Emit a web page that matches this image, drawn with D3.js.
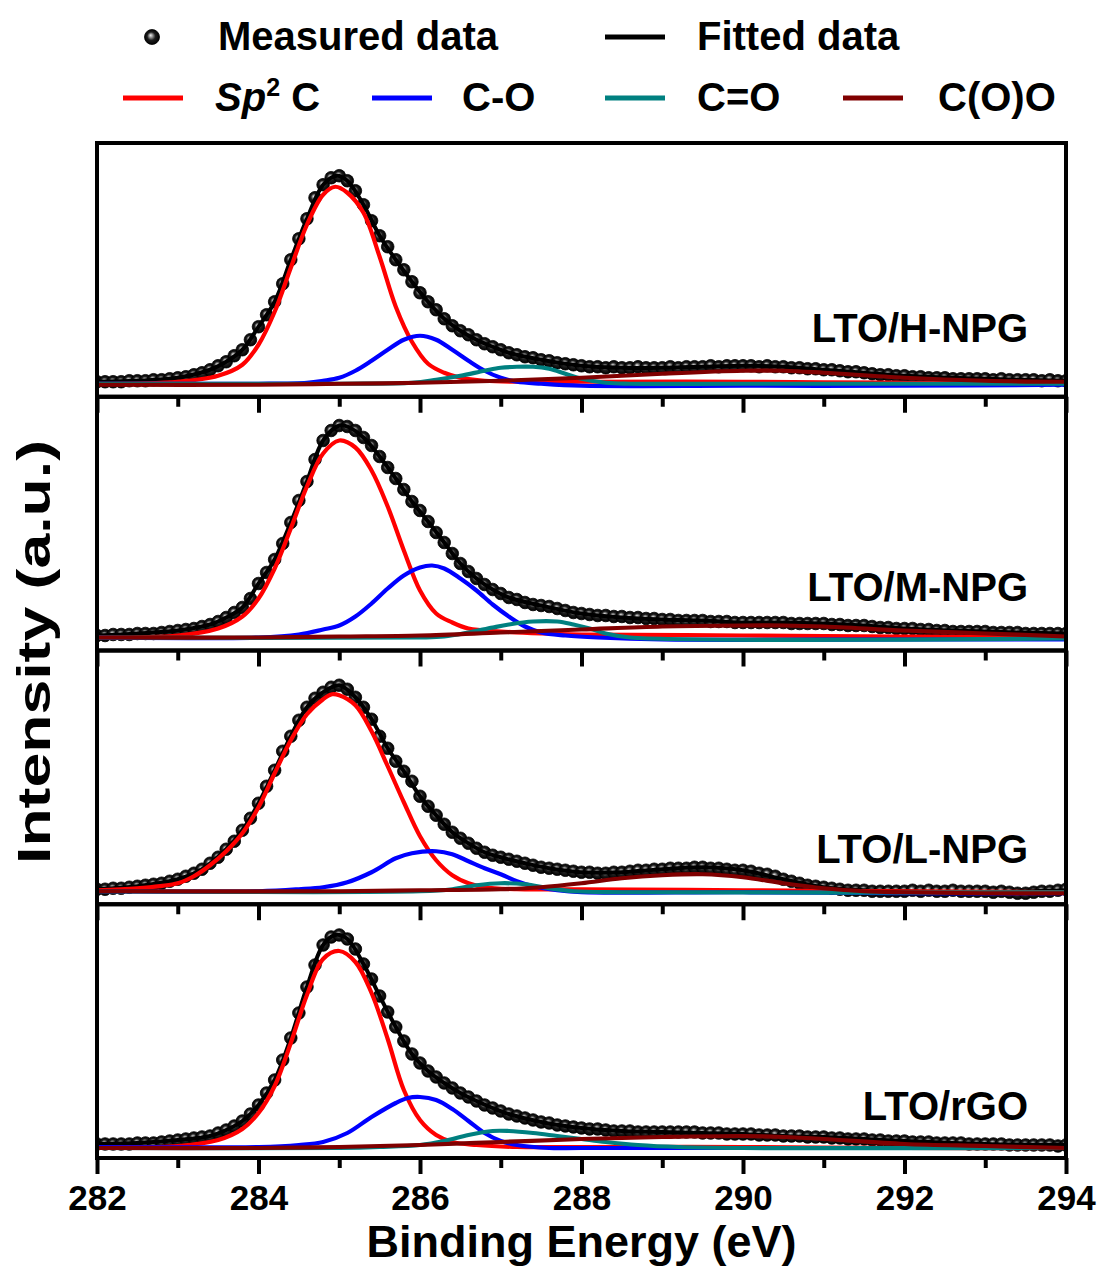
<!DOCTYPE html>
<html>
<head>
<meta charset="utf-8">
<script src="https://cdn.jsdelivr.net/npm/d3@7"></script>
<style>
body { margin: 0; background: #fff; }
svg text { font-family: "Liberation Sans", Arial, sans-serif; font-weight: bold; }
</style>
</head>
<body>
<div id="chart"></div>
<script>
// ---- data (intensity in arbitrary units) ----
var samples = ["LTO/H-NPG", "LTO/M-NPG", "LTO/L-NPG", "LTO/rGO"];
var majorTicks = [282, 284, 286, 288, 290, 292, 294];
var minorTicks = [283, 285, 287, 289, 291, 293];
var seriesNames = ["Sp2 C", "C-O", "C=O", "C(O)O"];

// measured points, one every 0.1 eV from 282 to 294
var measuredE = d3.range(121).map(function(i) { return 282 + i * 0.1; });

var measuredH = [
  15,15,15,15,16,16,16,17,17,18,
  19,20,22,24,27,31,35,41,47,57,
  70,82,95,113,137,158,178,199,212,219,
  221,216,206,192,176,161,150,137,127,115,
  104,95,87,78,71,66,62,57,53,50,
  47,44,42,40,39,37,36,34,33,32,
  31,30,30,29,30,29,29,30,29,29,
  29,30,29,30,30,30,31,30,31,31,
  31,31,30,31,30,30,29,29,28,28,
  27,27,26,25,25,24,23,22,22,21,
  21,20,20,19,19,19,18,18,18,18,
  18,17,18,17,17,17,17,16,17,16,16];
var measuredM = [
  15,15,16,16,16,17,17,17,18,19,
  20,21,22,24,26,29,33,38,43,52,
  67,78,91,107,128,150,169,191,210,220,
  225,224,220,213,205,194,183,172,161,149,
  140,129,118,108,97,87,79,72,66,61,
  57,53,51,48,46,45,44,42,40,38,
  37,36,35,35,34,34,33,33,32,32,
  31,31,30,30,30,30,29,29,29,28,
  28,28,28,28,28,28,27,27,27,27,
  27,26,26,25,25,25,24,23,23,22,
  22,22,21,21,20,20,19,19,19,19,
  19,18,18,18,18,17,17,17,17,17,17];
var measuredL = [
  15,15,16,16,17,18,19,20,21,23,
  25,28,31,35,41,47,55,63,74,86,
  101,118,134,153,168,184,197,206,212,217,
  219,215,207,197,185,168,156,143,133,123,
  108,98,89,80,72,66,61,56,52,49,
  47,45,43,41,39,37,36,35,34,33,
  32,32,31,31,32,32,33,34,34,35,
  35,36,36,36,37,37,36,36,35,34,
  34,33,31,30,28,25,23,21,19,18,
  17,16,15,14,14,14,13,13,13,13,
  13,14,13,14,13,13,14,13,13,13,
  13,12,13,12,11,11,12,13,13,14,15];
var measuredR = [
  14,14,14,14,14,15,15,15,16,17,
  18,19,20,21,22,25,28,32,37,44,
  53,65,78,98,120,145,171,193,213,221,
  223,219,209,194,179,162,146,131,117,104,
  95,87,81,75,70,65,61,57,53,50,
  47,44,42,40,38,36,35,33,32,31,
  30,29,29,28,27,27,27,26,26,26,
  26,26,26,26,26,25,25,25,24,24,
  24,24,23,23,23,22,22,22,21,21,
  21,20,20,19,19,19,18,18,17,17,
  17,16,16,16,15,15,15,15,14,14,
  14,14,14,13,13,13,13,13,13,12,13];

// fitted envelope [eV, intensity]
var fittedH = [[282,15],[282.5,16],[283,19],[283.4,27],[283.6,35],[283.8,47],[284,70],[284.2,95],[284.4,137],[284.6,178],[284.8,212],[284.97,221],[285.1,216],[285.3,192],[285.5,161],[285.7,137],[285.9,115],[286.1,95],[286.3,78],[286.5,66],[286.7,57],[286.9,50],[287.1,44],[287.5,37],[288,31],[288.5,29],[289,29],[289.5,30],[290,31],[290.5,30],[291,27],[291.5,24],[292,21],[293,18],[294,16]];
var fittedM = [[282,15],[282.5,17],[283,20],[283.4,26],[283.6,33],[283.8,43],[284,67],[284.2,91],[284.4,128],[284.6,169],[284.8,210],[285,225],[285.1,224],[285.3,213],[285.5,194],[285.7,172],[285.9,149],[286.1,129],[286.3,108],[286.5,87],[286.7,72],[286.9,61],[287.1,53],[287.5,45],[288,37],[288.5,33],[289,31],[289.5,30],[290,28],[290.5,28],[291,27],[291.5,25],[292,22],[293,19],[294,17]];
var fittedL = [[282,15],[282.5,18],[283,25],[283.3,35],[283.6,55],[283.8,74],[284,101],[284.2,134],[284.4,168],[284.6,197],[284.8,212],[285,219],[285.2,207],[285.4,185],[285.6,156],[285.8,133],[286,108],[286.2,89],[286.4,72],[286.6,61],[286.8,52],[287,47],[287.3,41],[287.6,36],[288,32],[288.5,32],[289,35],[289.5,37],[290,34],[290.5,25],[291,17],[291.5,14],[292,13],[293,12],[294,14]];
var fittedR = [[282,14],[282.5,15],[283,18],[283.4,22],[283.6,28],[283.8,37],[284,53],[284.2,78],[284.4,120],[284.6,171],[284.8,213],[284.95,223],[285.1,219],[285.3,194],[285.5,162],[285.7,131],[285.9,104],[286.1,87],[286.3,75],[286.5,65],[286.7,57],[286.9,50],[287.1,44],[287.5,36],[288,30],[288.5,27],[289,26],[289.5,25],[290,24],[290.5,22],[291,21],[291.5,19],[292,17],[293,14],[294,13]];

// fitted components [eV, intensity]
var sp2H = [[282,13],[283,15],[283.5,21],[283.8,32],[284,52],[284.2,85],[284.4,129],[284.6,172],[284.8,202],[284.95,210],[285.1,204],[285.3,184],[285.5,140],[285.7,90],[285.9,55],[286.1,33],[286.3,24],[286.5,19],[286.8,16],[287.2,15],[288,15],[290,15],[292,14],[294,14]];
var coH = [[282,13],[283,13],[284,13],[284.6,14],[284.8,16],[285,19],[285.2,26],[285.4,36],[285.6,47],[285.8,57],[286,61],[286.2,57],[286.4,47],[286.6,36],[286.8,26],[287,19],[287.2,15],[287.5,13],[288,11],[290,11],[292,11],[294,12]];
var c2oH = [[282,13],[285,13],[285.9,14],[286.2,17],[286.5,21],[286.8,26],[287,29],[287.2,30],[287.4,30],[287.6,28],[287.8,23],[288,18],[288.3,14],[288.6,13],[290,13],[294,13]];
var cooH = [[282,12],[284,12],[285,13],[286,14],[287,16],[288,19],[289,23],[290,26],[290.5,26],[291,24],[292,19],[293,16],[294,15]];

var sp2M = [[282,13],[283,15],[283.5,22],[283.8,34],[284,52],[284.2,82],[284.4,122],[284.6,164],[284.8,197],[285,210],[285.2,203],[285.4,180],[285.6,144],[285.8,100],[286,60],[286.2,37],[286.4,28],[286.6,22],[287,19],[287.5,17],[288,16],[290,15],[292,14],[294,13]];
var coM = [[282,13],[284,13],[284.5,16],[284.8,21],[285,25],[285.2,34],[285.4,47],[285.6,62],[285.8,75],[286,83],[286.15,85],[286.3,82],[286.5,72],[286.7,60],[286.9,46],[287.1,34],[287.3,24],[287.5,18],[287.8,15],[288.2,13],[289,11],[292,11],[294,11]];
var c2oM = [[282,13],[286,13],[286.3,14],[286.6,18],[286.9,23],[287.1,26],[287.4,29],[287.7,29],[287.9,26],[288.1,22],[288.3,17],[288.6,13],[294,12]];
var cooM = [[282,13],[284,13],[285,14],[286,15],[287,18],[288,21],[289,24],[290,25],[290.5,25],[291,24],[292,20],[293,17],[294,14]];

var sp2L = [[282,14],[282.5,16],[283,21],[283.2,28],[283.4,39],[283.6,53],[283.8,71],[284,97],[284.2,131],[284.4,164],[284.6,190],[284.8,205],[284.91,210],[285,209],[285.2,199],[285.4,173],[285.6,138],[285.8,102],[286,68],[286.2,44],[286.4,29],[286.6,21],[286.8,17],[287.2,15],[288,15],[290,14],[292,13],[294,12]];
var coL = [[282,13],[284,13],[284.5,15],[284.8,17],[285.1,22],[285.4,32],[285.7,46],[285.9,51],[286.2,53],[286.4,50],[286.6,43],[286.8,36],[287,30],[287.2,23],[287.4,18],[287.7,14],[288,12],[290,12],[292,11],[294,11]];
var c2oL = [[282,13],[286,13],[286.4,15],[286.7,19],[287,21],[287.3,20],[287.6,16],[287.9,13],[288.5,12],[294,12]];
var cooL = [[282,13],[285,13],[286,14],[287,15],[287.5,17],[288,21],[288.5,26],[289,29],[289.5,30],[290,27],[290.5,21],[291,16],[291.5,13],[292,12],[293,11],[294,11]];

var sp2R = [[282,11],[283,12],[283.5,18],[283.8,29],[284,45],[284.2,72],[284.4,115],[284.6,163],[284.8,199],[285,207],[285.2,196],[285.4,165],[285.6,119],[285.8,68],[286,38],[286.2,23],[286.4,16],[286.7,13],[287.2,11],[288,11],[290,11],[292,10],[294,10]];
var coR = [[282,11],[284,11],[284.5,13],[284.8,16],[285.1,25],[285.4,41],[285.7,55],[285.85,60],[286,61],[286.2,58],[286.4,49],[286.6,37],[286.8,25],[287,17],[287.2,13],[287.6,10],[288,10],[294,10]];
var c2oR = [[282,10],[285,10],[285.5,11],[286,13],[286.3,17],[286.6,23],[286.9,27],[287.1,27],[287.4,25],[287.7,22],[288,19],[288.3,16],[288.7,13],[289.2,11],[290,10],[294,10]];
var cooR = [[282,10],[284,10],[285,11],[286,13],[287,16],[288,19],[289,21],[290,22],[290.5,21],[291,19],[292,14],[293,12],[294,10]];

var colors = ["#ff0000", "#0000ff", "#008080", "#800000"];

var panels = [
  {name: samples[0], measured: measuredH, fitted: fittedH, comps: [sp2H, coH, c2oH, cooH]},
  {name: samples[1], measured: measuredM, fitted: fittedM, comps: [sp2M, coM, c2oM, cooM]},
  {name: samples[2], measured: measuredL, fitted: fittedL, comps: [sp2L, coL, c2oL, cooL]},
  {name: samples[3], measured: measuredR, fitted: fittedR, comps: [sp2R, coR, c2oR, cooR]}
];

// ---- layout ----
var width = 1103, height = 1273;
var plotLeft = 97, plotRight = 1066, plotTop = 143, plotBottom = 1158;
var labelOffset = [55, 50, 41, 38];

var svg = d3.select("#chart").append("svg")
  .attr("width", width)
  .attr("height", height);

var defs = svg.append("defs");
var grad = defs.append("radialGradient")
  .attr("id", "dotGrad")
  .attr("cx", "0.5").attr("cy", "0.5").attr("r", "0.5")
  .attr("fx", "0.4").attr("fy", "0.38");
grad.append("stop").attr("offset", "0%").attr("stop-color", "#f0f0f0");
grad.append("stop").attr("offset", "22%").attr("stop-color", "#a0a0a0");
grad.append("stop").attr("offset", "55%").attr("stop-color", "#1e1e1e");
grad.append("stop").attr("offset", "100%").attr("stop-color", "#000");

var x = d3.scaleLinear().domain([282, 294]).range([plotLeft, plotRight]);
var band = d3.scaleLinear().domain([0, panels.length]).range([plotTop, plotBottom]);

panels.forEach(function(p, i) {
  var y0 = band(i), y1 = band(i + 1);
  var y = d3.scaleLinear().domain([0, 254]).range([y1, y1 - 254]);
  var g = svg.append("g");

  defs.append("clipPath").attr("id", "clip" + i)
    .append("rect")
    .attr("x", plotLeft).attr("y", y0)
    .attr("width", plotRight - plotLeft).attr("height", y1 - y0);

  var plot = g.append("g").attr("clip-path", "url(#clip" + i + ")");

  var line = d3.line()
    .x(function(d) { return x(d[0]); })
    .y(function(d) { return y(d[1]); })
    .curve(d3.curveCatmullRom.alpha(0.5));

  // measured points
  plot.selectAll("circle")
    .data(p.measured.map(function(v, k) { return [measuredE[k], v]; }))
    .enter().append("circle")
    .attr("cx", function(d) { return x(d[0]); })
    .attr("cy", function(d) { return y(d[1]); })
    .attr("r", 6.3)
    .attr("fill", "url(#dotGrad)")
    .attr("stroke", "#000")
    .attr("stroke-width", 0.8);

  plot.append("path")
    .datum(p.fitted)
    .attr("d", line)
    .attr("fill", "none")
    .attr("stroke", "#000")
    .attr("stroke-width", 4);

  p.comps.forEach(function(c, k) {
    plot.append("path")
      .datum(c)
      .attr("d", line)
      .attr("fill", "none")
      .attr("stroke", colors[k])
      .attr("stroke-width", 4.2);
  });

  // frame
  g.append("rect")
    .attr("x", plotLeft).attr("y", y0)
    .attr("width", plotRight - plotLeft).attr("height", y1 - y0)
    .attr("fill", "none")
    .attr("stroke", "#000")
    .attr("stroke-width", 4);

  // ticks on the bottom edge of each panel
  var minorG = g.append("g").attr("transform", "translate(0," + y1 + ")");
  minorG.call(d3.axisBottom(x).tickValues(minorTicks).tickSize(10).tickSizeOuter(0).tickFormat(""));
  var majorG = g.append("g").attr("transform", "translate(0," + y1 + ")");
  majorG.call(d3.axisBottom(x).tickValues(majorTicks).tickSize(16).tickSizeOuter(0)
    .tickFormat(i === panels.length - 1 ? d3.format("d") : ""));
  g.selectAll(".domain").remove();
  g.selectAll(".tick line").attr("stroke", "#000").attr("stroke-width", 4);
  majorG.selectAll(".tick text")
    .attr("y", 52).attr("dy", 0)
    .attr("fill", "#000")
    .style("font-size", "35px")
    .style("font-family", "'Liberation Sans', Arial, sans-serif")
    .style("font-weight", "bold");

  g.append("text")
    .attr("x", 1028)
    .attr("y", y1 - labelOffset[i])
    .attr("text-anchor", "end")
    .style("font-size", "40px")
    .text(p.name);
});

// axis titles
svg.append("text")
  .attr("x", (plotLeft + plotRight) / 2)
  .attr("y", 1257)
  .attr("text-anchor", "middle")
  .style("font-size", "45px")
  .text("Binding Energy (eV)");

svg.append("text")
  .attr("transform", "translate(50,652) rotate(-90) scale(1.36,1)")
  .attr("text-anchor", "middle")
  .style("font-size", "46px")
  .text("Intensity (a.u.)");

// legend
var leg = svg.append("g");
leg.append("circle").attr("cx", 152).attr("cy", 37).attr("r", 7.5)
  .attr("fill", "url(#dotGrad)").attr("stroke", "#000").attr("stroke-width", 0.8);
leg.append("text").attr("x", 218).attr("y", 50).style("font-size", "40px").text("Measured data");
leg.append("line").attr("x1", 605).attr("x2", 665).attr("y1", 37).attr("y2", 37)
  .attr("stroke", "#000").attr("stroke-width", 5);
leg.append("text").attr("x", 697).attr("y", 50).style("font-size", "40px").text("Fitted data");

var row2 = [
  {x1: 123, tx: 215},
  {x1: 372, tx: 462},
  {x1: 605, tx: 697},
  {x1: 843, tx: 938}
];
row2.forEach(function(r, k) {
  leg.append("line").attr("x1", r.x1).attr("x2", r.x1 + 60).attr("y1", 98).attr("y2", 98)
    .attr("stroke", colors[k]).attr("stroke-width", 5);
  var t = leg.append("text").attr("x", r.tx).attr("y", 111).style("font-size", "40px");
  if (k === 0) {
    t.append("tspan").style("font-style", "italic").text("Sp");
    t.append("tspan").attr("dy", -15).style("font-size", "25px").text("2");
    t.append("tspan").attr("dy", 15).text(" C");
  } else {
    t.text(seriesNames[k]);
  }
});
</script>
</body>
</html>
